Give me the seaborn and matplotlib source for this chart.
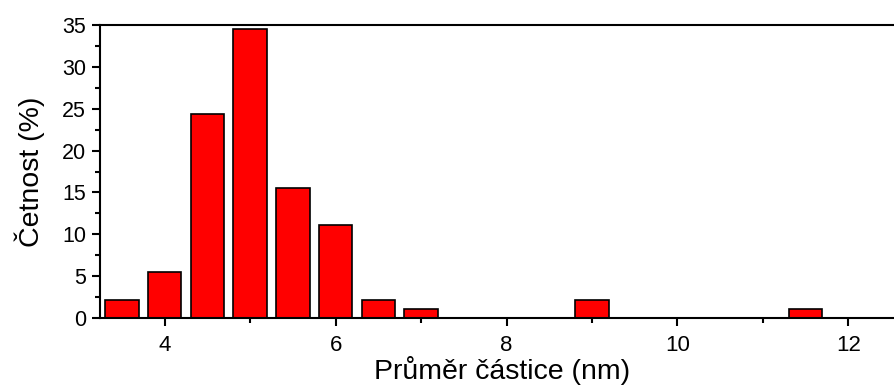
import matplotlib
matplotlib.use("Agg")
import matplotlib.pyplot as plt
import seaborn as sns
from matplotlib.ticker import MultipleLocator

diameters = [3.5, 4.0, 4.5, 5.0, 5.5, 6.0, 6.5, 7.0, 9.0, 11.5]
frequency = [2.2, 5.5, 24.4, 34.5, 15.5, 11.1, 2.2, 1.1, 2.2, 1.1]
x_ticks = [4, 6, 8, 10, 12]
y_ticks = [0, 5, 10, 15, 20, 25, 30, 35]

sns.set_theme(style="ticks")
plt.rcParams['font.family'] = ['Liberation Sans', 'DejaVu Sans']
plt.rcParams['text.color'] = 'black'
plt.rcParams['axes.labelcolor'] = 'black'
plt.rcParams['xtick.color'] = 'black'
plt.rcParams['ytick.color'] = 'black'

fig = plt.figure(figsize=(8.95, 3.85), dpi=100)
ax = fig.add_axes([0.1117, 0.174, 0.8883 + 0.01, 0.761])

sns.barplot(x=diameters, y=frequency, native_scale=True, width=0.78,
            color="#ff0000", saturation=1, edgecolor="black", linewidth=1.2, ax=ax)

ax.set_xlim(3.243, 12.65)
ax.set_ylim(0, 35)
ax.set_xticks(x_ticks)
ax.set_xticklabels([str(t) for t in x_ticks])
ax.set_yticks(y_ticks)
ax.set_yticklabels([str(t) for t in y_ticks])
ax.xaxis.set_minor_locator(MultipleLocator(1))
ax.yaxis.set_minor_locator(MultipleLocator(2.5))
ax.tick_params(axis='both', which='major', direction='out', length=6, width=1.5,
               colors='black', labelcolor='black')
ax.tick_params(axis='both', which='minor', direction='out', length=3.5, width=1.5,
               colors='black')
ax.tick_params(axis='x', which='major', labelsize=16, pad=6)
ax.tick_params(axis='y', which='major', labelsize=15.5, pad=4)

for s in ['left', 'bottom', 'top']:
    ax.spines[s].set_linewidth(1.5)
    ax.spines[s].set_color('black')
ax.spines['right'].set_visible(False)

ax.set_xlabel("Průměr částice (nm)", fontsize=20.5, labelpad=0, color='black')
ax.set_ylabel("Četnost (%)", fontsize=20.5, labelpad=12, color='black')

fig.savefig("out.png", dpi=100)
